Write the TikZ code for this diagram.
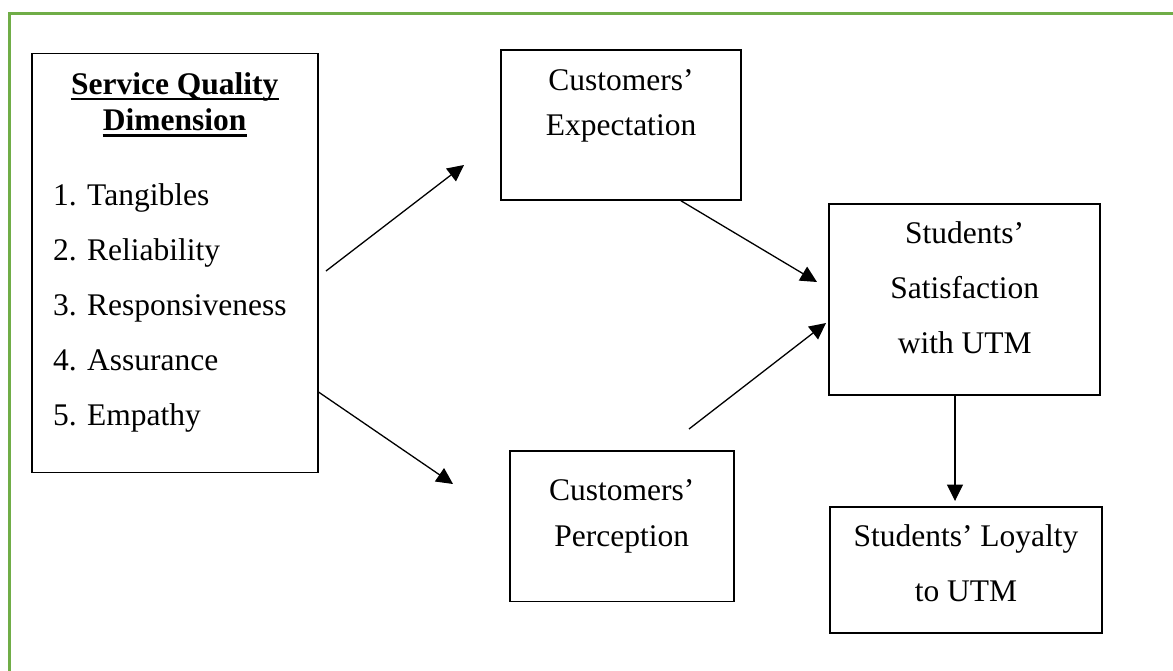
\documentclass[tikz,border=0pt]{standalone}
\usepackage{fontspec}
\setmainfont{Liberation Serif}
\usetikzlibrary{arrows.meta}
\definecolor{frameGreen}{RGB}{112,173,71}

\begin{document}
\begin{tikzpicture}[x=0.5pt, y=-0.5pt, >={Triangle[length=8.2pt,width=8pt]},
		box/.style={draw, line width=0.8pt, inner sep=0pt},
		txt/.style={anchor=base, inner sep=0pt, font=\fontsize{15.75}{18}\selectfont},
		item/.style={txt, anchor=base west},
		head/.style={txt, font=\fontsize{15.75}{18}\selectfont\bfseries},
		arr/.style={->, line width=0.65pt}]
		
		% Page size (pixel grid, y downwards)
		\useasboundingbox (0,0) rectangle (1173,670);
		
		% Green page frame (runs off the right and bottom)
		\draw[frameGreen, line width=1.4pt] (9.5,13.5) rectangle (1200,710);
		
		% Boxes
		\node[box, minimum width=143pt, minimum height=209.5pt] (dimBox) at (174.7,262.8) {};
		\node[box, minimum width=120pt, minimum height=75pt] (expBox) at (621,125) {};
		\node[box, minimum width=112pt, minimum height=75.3pt] (perBox) at (621.7,526.3) {};
		\node[box, minimum width=135.5pt, minimum height=95.5pt] (satBox) at (964.7,299.5) {};
		\node[box, minimum width=136pt, minimum height=63pt] (loyBox) at (966,569.7) {};
		
		% Dimension heading (underlined)
		\node[head] (svcTitle) at (174.7,94.3) {Service Quality};
		\node[head] (dimTitle) at (174.7,130.7) {Dimension};
		\draw[line width=1.1pt] ([yshift=-2.4pt]svcTitle.base west) -- ([yshift=-2.4pt]svcTitle.base east);
		\draw[line width=1.1pt] ([yshift=-2.4pt]dimTitle.base west) -- ([yshift=-2.4pt]dimTitle.base east);
		
		% Dimension list
		\node[item] (itemOne) at (52.7,205) {1. Tangibles};
		\node[item] (itemTwo) at (52.7,260) {2. Reliability};
		\node[item] (itemThree) at (52.7,315) {3. Responsiveness};
		\node[item] (itemFour) at (52.7,370) {4. Assurance};
		\node[item] (itemFive) at (52.7,425) {5. Empathy};
		
		% Box texts
		\node[txt] (expOne) at (621,90) {Customers'};
		\node[txt] (expTwo) at (621,135) {Expectation};
		\node[txt] (perOne) at (621.7,500) {Customers'};
		\node[txt] (perTwo) at (621.7,546.5) {Perception};
		\node[txt] (satOne) at (964.7,243) {Students'};
		\node[txt] (satTwo) at (964.7,298) {Satisfaction};
		\node[txt] (satThree) at (964.7,353) {with UTM};
		\node[txt] (loyOne) at (966,546.7) {Students' Loyalty};
		\node[txt] (loyTwo) at (966,601.7) {to UTM};
		
		% Free arrow ends
		\coordinate (dimOut) at (326,271);
		\coordinate (expIn) at (464,165);
		\coordinate (perIn) at (453,484);
		\coordinate (satInA) at (817,282);
		\coordinate (perOut) at (689,429);
		\coordinate (satInB) at (826,323);
		\coordinate (loyIn) at (955,501);
		
		% Arrows
		\draw[arr] (dimOut) -- (expIn);
		\draw[arr] (dimBox.east |- 0,392) -- (perIn);
		\draw[arr] (expBox.south -| 681,0) -- (satInA);
		\draw[arr] (perOut) -- (satInB);
		\draw[arr] (satBox.south -| loyIn) -- (loyIn);
		
	\end{tikzpicture}
\end{document}
